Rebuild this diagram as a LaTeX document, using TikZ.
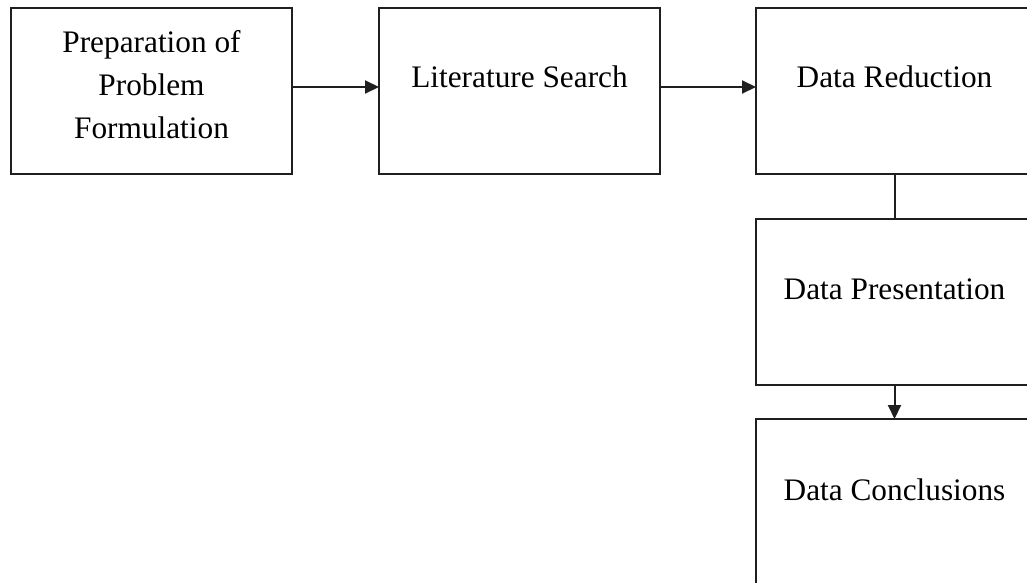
\documentclass[tikz,border=0pt]{standalone}
\usepackage{fontspec}
\setmainfont{Liberation Serif}
\usetikzlibrary{arrows.meta}
\begin{document}
\begin{tikzpicture}[x=1pt,y=-1pt,
  box/.style={draw=black!88, line width=2pt, rectangle, inner sep=0pt, outer sep=0pt, anchor=north west, minimum width=277pt, minimum height=166pt},
  lbl/.style={font=\fontsize{31.3}{43}\selectfont, align=center, inner sep=0pt, text=black},
  conn/.style={draw=black!88, line width=2pt},
  arr/.style={conn, -{Triangle[length=14pt,width=13pt]}}]
\useasboundingbox (0,0) rectangle (1027,583);
\clip (0,0) rectangle (1027,583);
\fill[white] (0,0) rectangle (1027,583);
\node[box, minimum width=281pt] (b1) at (11,8) {};
\node[box, minimum width=281pt] (b2) at (379,8) {};
\node[box] (b3) at (756,8) {};
\node[box] (b4) at (756,219) {};
\node[box] (b5) at (756,419) {};
\node[lbl] (t1) at ([yshift=6pt]b1.center) {Preparation of\\Problem\\Formulation};
\node[lbl] (t2) at ([yshift=14pt]b2.center) {Literature Search};
\node[lbl] (t3) at ([yshift=14pt]b3.center) {Data Reduction};
\node[lbl] (t4) at ([yshift=13pt]b4.center) {Data Presentation};
\node[lbl] (t5) at ([yshift=12pt]b5.center) {Data Conclusions};
\draw[arr] ([yshift=4pt]b1.east) -- ([yshift=4pt]b2.west);
\draw[arr] ([yshift=4pt]b2.east) -- ([yshift=4pt]b3.west);
\draw[conn] (b3.south) -- (b4.north);
\draw[arr] (b4.south) -- (b5.north);
\end{tikzpicture}
\end{document}
